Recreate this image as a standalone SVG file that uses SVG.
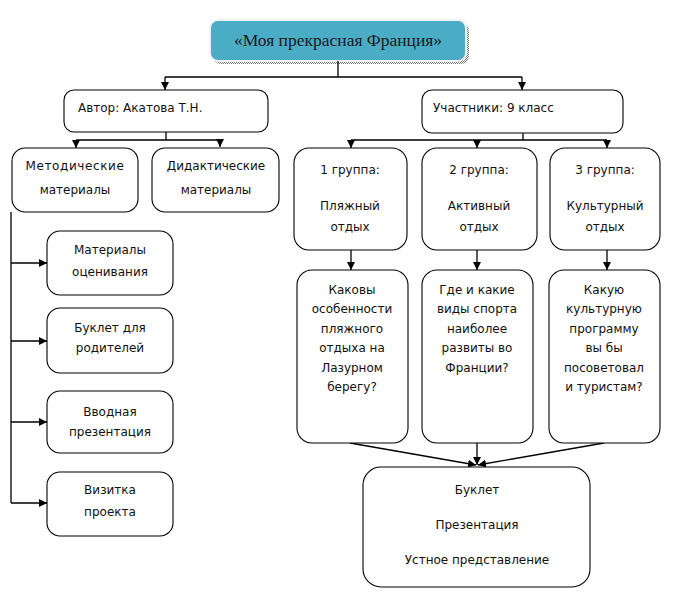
<svg xmlns="http://www.w3.org/2000/svg" width="674" height="606" viewBox="0 0 674 606">
<defs>
<marker id="ah" viewBox="0 0 10 10" refX="10" refY="5" markerWidth="8" markerHeight="8" markerUnits="userSpaceOnUse" orient="auto">
<path d="M0,0 L10,5 L0,10 Z" fill="#000"/>
</marker>
<pattern id="dots" width="2" height="2" patternUnits="userSpaceOnUse">
<rect width="2" height="2" fill="#fff"/>
<rect width="1" height="1" fill="#777"/>
<rect x="1" y="1" width="1" height="1" fill="#777"/>
</pattern>
</defs>
<style>
.box{fill:#fff;stroke:#000;stroke-width:1.1}
.t{font-family:"DejaVu Sans","Liberation Sans",sans-serif;font-size:12px;fill:#111}
.c{text-anchor:middle}
.ln{fill:none;stroke:#000;stroke-width:1.3}
.ar{fill:none;stroke:#000;stroke-width:1.3;marker-end:url(#ah)}
</style>
<rect width="674" height="606" fill="#fff"/>

<g id="title">
<rect x="213" y="23" width="256" height="41" rx="8" fill="url(#dots)"/>
<rect x="210" y="20" width="256" height="41" rx="8" fill="#4bacc6" stroke="#eef3f5" stroke-width="2"/>
<text x="338" y="46" text-anchor="middle" font-family="Liberation Serif,serif" font-size="17.5" fill="#1a1a1a">«Моя прекрасная Франция»</text>
</g>

<g id="connectors">
<path class="ln" d="M338,61 V77 M165,77 H522"/>
<path class="ar" d="M165,77 V90"/>
<path class="ar" d="M522,77 V90"/>
<path class="ln" d="M166,132 V140 M76,140 H220"/>
<path class="ar" d="M76,140 V148"/>
<path class="ar" d="M220,140 V147"/>
<path class="ln" d="M523,133 V140 M351,140 H607"/>
<path class="ar" d="M351,140 V148"/>
<path class="ar" d="M477,140 V148"/>
<path class="ar" d="M607,140 V148"/>
<path class="ar" d="M351,250 V270"/>
<path class="ar" d="M477,250 V270"/>
<path class="ar" d="M607,250 V270"/>
<path class="ln" d="M11,212 V503"/>
<path class="ar" d="M11,263 H47"/>
<path class="ar" d="M11,341 H47"/>
<path class="ar" d="M11,422 H47"/>
<path class="ar" d="M11,503 H47"/>
<path class="ar" d="M350,443 L476,465"/>
<path class="ar" d="M477,443 V465"/>
<path class="ar" d="M604,443 L478,465"/>
</g>

<g id="author">
<rect class="box" x="64" y="90" width="204" height="42" rx="10"/>
<text class="t" x="78" y="112">Автор: Акатова Т.Н.</text>
</g>
<g id="participants">
<rect class="box" x="422" y="90" width="201" height="43" rx="10"/>
<text class="t" x="433" y="112">Участники: 9 класс</text>
</g>
<g id="metod">
<rect class="box" x="12" y="148" width="126" height="64" rx="13"/>
<text class="t c" x="75" y="170" letter-spacing="0.6">Методические</text>
<text class="t c" x="75" y="194">материалы</text>
</g>
<g id="didakt">
<rect class="box" x="152" y="148" width="127" height="64" rx="13"/>
<text class="t c" x="216" y="170">Дидактические</text>
<text class="t c" x="216" y="194">материалы</text>
</g>
<g id="group1">
<rect class="box" x="294" y="148" width="113" height="102" rx="15"/>
<text class="t c" x="350" y="174">1 группа:</text>
<text class="t c" x="350" y="210">Пляжный</text>
<text class="t c" x="350" y="231">отдых</text>
</g>
<g id="group2">
<rect class="box" x="422" y="148" width="115" height="102" rx="15"/>
<text class="t c" x="479" y="174">2 группа:</text>
<text class="t c" x="479" y="210">Активный</text>
<text class="t c" x="479" y="231">отдых</text>
</g>
<g id="group3">
<rect class="box" x="550" y="148" width="110" height="102" rx="15"/>
<text class="t c" x="605" y="174">3 группа:</text>
<text class="t c" x="605" y="210">Культурный</text>
<text class="t c" x="605" y="231">отдых</text>
</g>
<g id="q1">
<rect class="box" x="297" y="270" width="111" height="173" rx="15"/>
<text class="t c" x="352" y="294">Каковы</text>
<text class="t c" x="352" y="313">особенности</text>
<text class="t c" x="352" y="333">пляжного</text>
<text class="t c" x="352" y="352">отдыха на</text>
<text class="t c" x="352" y="372">Лазурном</text>
<text class="t c" x="352" y="391">берегу?</text>
</g>
<g id="q2">
<rect class="box" x="422" y="270" width="111" height="173" rx="15"/>
<text class="t c" x="477" y="294">Где и какие</text>
<text class="t c" x="477" y="313">виды спорта</text>
<text class="t c" x="477" y="333">наиболее</text>
<text class="t c" x="477" y="352">развиты во</text>
<text class="t c" x="477" y="372">Франции?</text>
</g>
<g id="q3">
<rect class="box" x="549" y="270" width="111" height="173" rx="15"/>
<text class="t c" x="604" y="294">Какую</text>
<text class="t c" x="604" y="313">культурную</text>
<text class="t c" x="604" y="333">программу</text>
<text class="t c" x="604" y="352">вы бы</text>
<text class="t c" x="604" y="372">посоветовал</text>
<text class="t c" x="604" y="391">и туристам?</text>
</g>
<g id="result">
<rect class="box" x="363" y="467" width="227" height="120" rx="18"/>
<text class="t c" x="477" y="494">Буклет</text>
<text class="t c" x="477" y="529">Презентация</text>
<text class="t c" x="477" y="564">Устное представление</text>
</g>
<g id="m1">
<rect class="box" x="47" y="231" width="126" height="64" rx="13"/>
<text class="t c" x="110" y="254">Материалы</text>
<text class="t c" x="110" y="276">оценивания</text>
</g>
<g id="m2">
<rect class="box" x="47" y="308" width="126" height="65" rx="13"/>
<text class="t c" x="110" y="332">Буклет для</text>
<text class="t c" x="110" y="352">родителей</text>
</g>
<g id="m3">
<rect class="box" x="47" y="391" width="126" height="62" rx="13"/>
<text class="t c" x="110" y="416">Вводная</text>
<text class="t c" x="110" y="436">презентация</text>
</g>
<g id="m4">
<rect class="box" x="47" y="472" width="126" height="64" rx="13"/>
<text class="t c" x="110" y="494">Визитка</text>
<text class="t c" x="110" y="516">проекта</text>
</g>
</svg>
